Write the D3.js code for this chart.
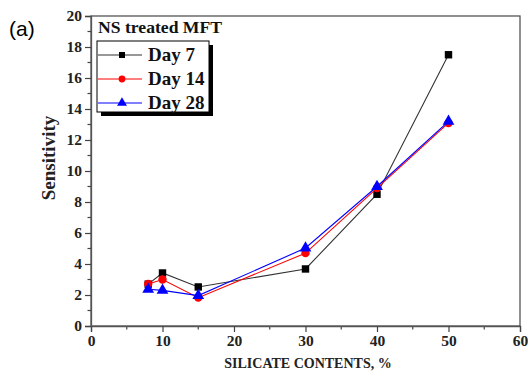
<!DOCTYPE html>
<html>
<head>
<meta charset="utf-8">
<script src="https://cdn.jsdelivr.net/npm/d3@7"></script>
<style>
  html, body { margin: 0; padding: 0; background: #fff; }
  svg { display: block; }
  text { font-family: "Liberation Serif", "Times New Roman", serif; font-weight: bold; }
</style>
</head>
<body>
<div id="chart"></div>
<script>
// Silicate content (%) tested for each curing age
const silicate = [8, 10, 15, 30, 40, 50];
const day7  = [2.7, 3.42, 2.52, 3.68, 8.5, 17.5];
const day14 = [2.71, 3.0, 1.83, 4.7, 8.9, 13.1];
const day28 = [2.37, 2.3, 1.96, 5.03, 9.0, 13.2];

const seriesNames = ["Day 7", "Day 14", "Day 28"];
const seriesColors = ["#000000", "#ff0000", "#0000ff"];
const seriesShapes = [d3.symbolSquare, d3.symbolCircle, d3.symbolTriangle];
const xTicks = [0, 10, 20, 30, 40, 50, 60];
const yTicks = [0, 2, 4, 6, 8, 10, 12, 14, 16, 18, 20];

const W = 528, H = 373;
const margin = { left: 91, right: 8, top: 16, bottom: 47 };

const svg = d3.select("#chart").append("svg").attr("width", W).attr("height", H);

const x = d3.scaleLinear().domain([0, 60]).range([margin.left, W - margin.right]);
const y = d3.scaleLinear().domain([0, 20]).range([H - margin.bottom, margin.top]);

// frame
svg.append("rect")
  .attr("x", x(0)).attr("y", y(20))
  .attr("width", x(60) - x(0)).attr("height", y(0) - y(20))
  .attr("fill", "none").attr("stroke", "#555").attr("stroke-width", 1.3);

// minor ticks
const xMinor = d3.range(5, 60, 10);
const yMinor = d3.range(1, 20, 2);
svg.append("g").selectAll("line").data(xMinor).join("line")
  .attr("x1", d => x(d)).attr("x2", d => x(d))
  .attr("y1", y(0)).attr("y2", y(0) + 3.5)
  .attr("stroke", "#444").attr("stroke-width", 1.2);
svg.append("g").selectAll("line").data(yMinor).join("line")
  .attr("y1", d => y(d)).attr("y2", d => y(d))
  .attr("x1", x(0)).attr("x2", x(0) - 3.5)
  .attr("stroke", "#444").attr("stroke-width", 1.2);

// axes
const xAxis = svg.append("g").attr("transform", `translate(0,${y(0)})`)
  .call(d3.axisBottom(x).tickValues(xTicks).tickSize(6).tickPadding(3));
const yAxis = svg.append("g").attr("transform", `translate(${x(0)},0)`)
  .call(d3.axisLeft(y).tickValues(yTicks).tickSize(6).tickPadding(3));
[xAxis, yAxis].forEach(g => {
  g.select(".domain").attr("stroke", "#555").attr("stroke-width", 1.3);
  g.selectAll(".tick line").attr("stroke", "#444").attr("stroke-width", 1.2);
  g.selectAll(".tick text").attr("fill", "#222")
    .style("font-family", "'Liberation Serif', serif")
    .style("font-weight", "bold").style("font-size", "15.5px");
});

// axis titles
svg.append("text")
  .attr("x", 308).attr("y", 368)
  .attr("text-anchor", "middle").attr("font-size", "14px").attr("fill", "#222")
  .text("SILICATE CONTENTS, %");
svg.append("text")
  .attr("transform", "translate(55,158) rotate(-90)")
  .attr("text-anchor", "middle").attr("font-size", "19px").attr("fill", "#222")
  .text("Sensitivity");

// panel label
svg.append("text")
  .attr("x", 9).attr("y", 36)
  .style("font-family", "'Liberation Sans', Arial, sans-serif")
  .style("font-weight", "normal").attr("font-size", "21px").attr("fill", "#000")
  .text("(a)");

// series
const all = [day7, day14, day28];
const line = d3.line().x(d => x(d[0])).y(d => y(d[1]));
all.forEach((vals, i) => {
  const pts = silicate.map((s, j) => [s, vals[j]]);
  const g = svg.append("g");
  g.append("path").datum(pts).attr("d", line)
    .attr("fill", "none").attr("stroke", i === 0 ? "#333" : seriesColors[i]).attr("stroke-width", 1.1);
  g.selectAll("path.m").data(pts).join("path").attr("class", "m")
    .attr("transform", d => `translate(${x(d[0])},${y(d[1])})`)
    .attr("d", d3.symbol().type(seriesShapes[i]).size(i === 2 ? 60 : 55))
    .attr("fill", seriesColors[i]);
});

// title inside the plot
svg.append("text")
  .attr("x", 98).attr("y", 33)
  .attr("font-size", "16px").attr("fill", "#111")
  .attr("textLength", 124).attr("lengthAdjust", "spacingAndGlyphs")
  .text("NS treated MFT");

// legend with drop shadow
const lg = svg.append("g");
const lx = 97, ly = 41, lw = 112, lh = 71;
lg.append("rect").attr("x", lx + 4).attr("y", ly + 4).attr("width", lw).attr("height", lh).attr("fill", "#000");
lg.append("rect").attr("x", lx).attr("y", ly).attr("width", lw).attr("height", lh)
  .attr("fill", "#fff").attr("stroke", "#000").attr("stroke-width", 1);
seriesNames.forEach((name, i) => {
  const ry = ly + 14 + i * 24;
  lg.append("line").attr("x1", lx + 1).attr("x2", lx + 45).attr("y1", ry).attr("y2", ry)
    .attr("stroke", i === 0 ? "#333" : seriesColors[i]).attr("stroke-width", 1.1);
  lg.append("path").attr("transform", `translate(${lx + 25},${ry})`)
    .attr("d", d3.symbol().type(seriesShapes[i]).size(i === 2 ? 42 : 36))
    .attr("fill", seriesColors[i]);
  lg.append("text").attr("x", lx + 51).attr("y", ry + 6)
    .attr("font-size", "19px").attr("fill", "#111").text(name);
});
</script>
</body>
</html>
